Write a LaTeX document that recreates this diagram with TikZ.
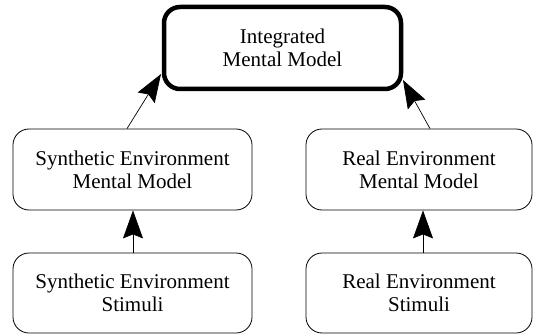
\documentclass[tikz,border=0pt]{standalone}
\usepackage{fontspec}
\setmainfont{Liberation Serif}
\usetikzlibrary{arrows.meta}
\begin{document}
\begin{tikzpicture}[x=1pt,y=-1pt,
  box/.style={draw, rounded corners=16pt, line width=0.8pt, align=center,
    inner sep=0pt, font=\fontsize{21}{23}\selectfont},
  topbox/.style={box, line width=4.5pt},
  arr/.style={line width=0.7pt, -{Stealth[length=28pt,width=20pt,inset=4pt]}}]
\useasboundingbox (0,0) rectangle (535,334);
\node[topbox, minimum width=237pt, minimum height=82pt] (top) at (282.5,48) {Integrated\\Mental Model};
\node[box, minimum width=239pt, minimum height=81pt] (lm) at (132.5,169.5) {Synthetic Environment\\Mental Model};
\node[box, minimum width=226pt, minimum height=81pt] (rm) at (419,169.5) {Real Environment\\Mental Model};
\node[box, minimum width=239pt, minimum height=80pt] (lb) at (132.5,293) {Synthetic Environment\\Stimuli};
\node[box, minimum width=226pt, minimum height=80pt] (rb) at (419,293) {Real Environment\\Stimuli};
\draw[arr] (lb.north -| 133,0) -- (lm.south -| 133,0);
\draw[arr] (rb.north -| 423,0) -- (rm.south -| 423,0);
\coordinate (tl) at (161,74);
\coordinate (tr) at (403,80);
\draw[arr] (lm.north -| 127,0) -- (tl);
\draw[arr] (rm.north -| 430,0) -- (tr);
\end{tikzpicture}
\end{document}
